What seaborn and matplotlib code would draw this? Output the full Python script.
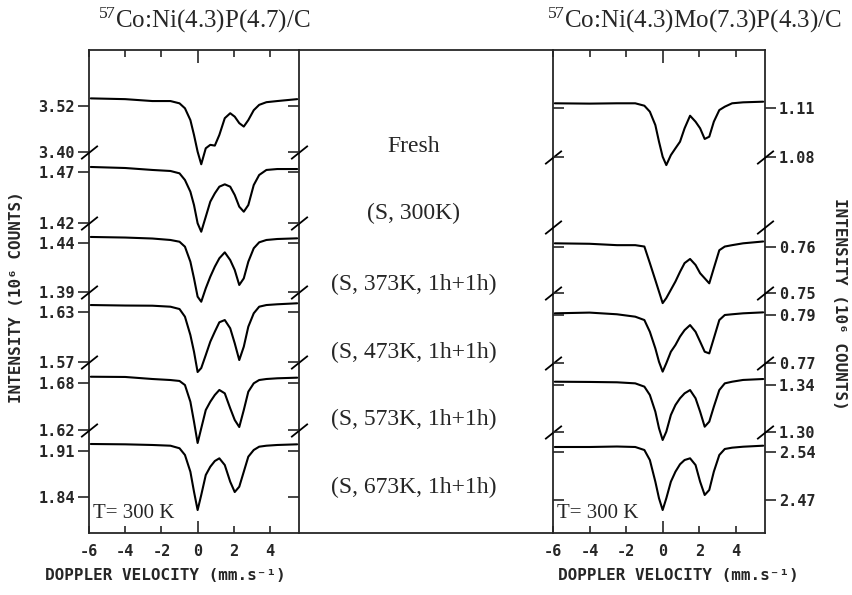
import matplotlib
matplotlib.use("Agg")
import matplotlib.pyplot as plt
import seaborn as sns

velocity = [-5.9, -4.0, -2.5, -1.5, -1.0, -0.7, -0.4, -0.2, 0.0, 0.2, 0.45, 0.7,
            0.95, 1.2, 1.5, 1.8, 2.05, 2.3, 2.55, 2.8, 3.1, 3.4, 3.8, 4.4, 5.5]

conditions = ["Fresh", "(S, 300K)", "(S, 373K, 1h+1h)", "(S, 473K, 1h+1h)",
              "(S, 573K, 1h+1h)", "(S, 673K, 1h+1h)"]

# 57Co:Ni(4.3)P(4.7)/C  -- intensity in 10^6 counts
ni_fresh = [3.540, 3.538, 3.533, 3.533, 3.527, 3.514, 3.483, 3.444, 3.400, 3.367, 3.409, 3.418,
            3.416, 3.444, 3.488, 3.501, 3.492, 3.475, 3.466, 3.483, 3.509, 3.523, 3.530, 3.533, 3.538]
ni_s300 = [1.4746, 1.4736, 1.4717, 1.4707, 1.4684, 1.4619, 1.4505, 1.4375, 1.4197, 1.4115, 1.4261, 1.4408,
           1.4489, 1.4554, 1.4577, 1.4554, 1.4473, 1.4359, 1.4310, 1.4375, 1.4570, 1.4668, 1.4717, 1.4726, 1.4726]
ni_s373 = [1.4462, 1.4456, 1.4446, 1.4431, 1.4413, 1.4362, 1.4208, 1.4037, 1.3849, 1.3797, 1.3935, 1.4054,
           1.4157, 1.4243, 1.4304, 1.4225, 1.4123, 1.3969, 1.4037, 1.4208, 1.4346, 1.4407, 1.4431, 1.4441, 1.4448]
ni_s473 = [1.6380, 1.6374, 1.6372, 1.6360, 1.6332, 1.6240, 1.6020, 1.5820, 1.5576, 1.5624, 1.5780, 1.5940,
           1.6060, 1.6173, 1.6200, 1.6101, 1.5921, 1.5720, 1.5880, 1.6120, 1.6281, 1.6360, 1.6380, 1.6389, 1.6401]
ni_s573 = [1.6880, 1.6877, 1.6851, 1.6838, 1.6826, 1.6774, 1.6561, 1.6306, 1.6034, 1.6222, 1.6455, 1.6561,
           1.6647, 1.6711, 1.6668, 1.6477, 1.6328, 1.6238, 1.6455, 1.6689, 1.6796, 1.6838, 1.6851, 1.6860, 1.6868]
ni_s673 = [1.9202, 1.9197, 1.9187, 1.9176, 1.9137, 1.9035, 1.8780, 1.8476, 1.8197, 1.8426, 1.8730, 1.8856,
           1.8943, 1.8984, 1.8882, 1.8628, 1.8471, 1.8552, 1.8780, 1.9009, 1.9111, 1.9161, 1.9176, 1.9187, 1.9197]

# 57Co:Ni(4.3)Mo(7.3)P(4.3)/C  (no spectrum for S, 300K)
nimo_fresh = [1.1131, 1.1129, 1.1131, 1.1131, 1.1116, 1.1079, 1.0996, 1.0893, 1.0800, 1.0748, 1.0810, 1.0852,
              1.0893, 1.0976, 1.1054, 1.1017, 1.0976, 1.0910, 1.0924, 1.1017, 1.1089, 1.1110, 1.1131, 1.1137, 1.1141]
nimo_s373 = [0.7608, 0.7607, 0.7604, 0.7604, 0.7601, 0.7565, 0.7528, 0.7503, 0.7478, 0.7489, 0.7507, 0.7525,
             0.7546, 0.7565, 0.7574, 0.7561, 0.7543, 0.7532, 0.7521, 0.7554, 0.7593, 0.7601, 0.7604, 0.7608, 0.7612]
nimo_s473 = [0.7907, 0.7910, 0.7903, 0.7893, 0.7879, 0.7830, 0.7761, 0.7705, 0.7664, 0.7699, 0.7747, 0.7775,
             0.7810, 0.7837, 0.7858, 0.7830, 0.7789, 0.7747, 0.7740, 0.7803, 0.7879, 0.7900, 0.7903, 0.7907, 0.7911]
nimo_s573 = [1.3428, 1.3426, 1.3423, 1.3414, 1.3386, 1.3315, 1.3173, 1.3032, 1.2932, 1.3003, 1.3145, 1.3230,
             1.3287, 1.3329, 1.3357, 1.3287, 1.3173, 1.3045, 1.3088, 1.3215, 1.3357, 1.3414, 1.3428, 1.3443, 1.3451]
nimo_s673 = [2.5473, 2.5473, 2.5480, 2.5473, 2.5429, 2.5283, 2.4967, 2.4725, 2.4554, 2.4725, 2.4967, 2.5113,
             2.5221, 2.5283, 2.5308, 2.5210, 2.4967, 2.4773, 2.4846, 2.5113, 2.5356, 2.5444, 2.5463, 2.5477, 2.5492]

# labelled y ticks of each stacked spectrum (upper, lower)
ni_ticks = [(3.52, 3.40), (1.47, 1.42), (1.44, 1.39), (1.63, 1.57), (1.68, 1.62), (1.91, 1.84)]
nimo_ticks = [(1.11, 1.08), None, (0.76, 0.75), (0.79, 0.77), (1.34, 1.30), (2.54, 2.47)]

ni_series = [ni_fresh, ni_s300, ni_s373, ni_s473, ni_s573, ni_s673]
nimo_series = [nimo_fresh, None, nimo_s373, nimo_s473, nimo_s573, nimo_s673]

# ---- layout (pixels) ----
W, H = 853, 595
TOP, BOT = 50, 533
L0, L1 = 89, 299
R0, R1 = 553, 765
XLIM = (-6, 5.6)
ni_px = [(106, 151.7), (171.7, 223), (243, 291.7), (311.7, 361.7), (383, 430), (450.7, 496.7)]
nimo_px = [(108.3, 156.7), (180, 227), (247, 293), (315, 363), (385, 432), (452, 500)]
label_y = [147, 213, 284, 352, 419, 487]

sns.set_style("ticks")
plt.rcParams["mathtext.fontset"] = "custom"
plt.rcParams["mathtext.rm"] = "Liberation Serif"
plt.rcParams["mathtext.it"] = "Liberation Serif"
plt.rcParams["mathtext.default"] = "regular"

mono = dict(family="DejaVu Sans Mono", weight="bold", size=11)
serif = dict(family="Liberation Serif")
LW = 1.3

fig = plt.figure(figsize=(W / 100, H / 100), dpi=100)


def rect(x0, x1, y0, y1):
    return [x0 / W, 1 - y1 / H, (x1 - x0) / W, (y1 - y0) / H]


def frame(x0, x1):
    ax = fig.add_axes(rect(x0, x1, TOP, BOT), facecolor="none")
    ax.set_xlim(XLIM)
    ax.set_ylim(0, 1)
    ax.set_yticks([])
    ax.set_xticks([-6, -4, -2, 0, 2, 4])
    ax.set_xticklabels(["-6", "-4", "-2", "0", "2", "4"], fontdict=mono)
    ax.tick_params(axis="x", direction="in", top=True, bottom=True, length=5, width=1.2, pad=8)
    zero = ax.xaxis.get_major_ticks()[3]
    zero.tick1line.set_markersize(9)
    zero.tick2line.set_markersize(9)
    for sp in ax.spines.values():
        sp.set_linewidth(LW)
    return ax


def break_mark(ax, y, transform):
    ax.plot([0, 1], [y, y], transform=transform, marker=[(-1, -0.8), (1, 0.8)],
            ms=12, mew=1.3, ls="none", color="k", clip_on=False, zorder=5)


def spectrum(x0, x1, values, ticks, px, side, last):
    t_hi, t_lo = ticks
    p_hi, p_lo = px
    s = (t_hi - t_lo) / (p_lo - p_hi)
    ax = fig.add_axes(rect(x0, x1, TOP, BOT), facecolor="none")
    ax.set_xlim(XLIM)
    ax.set_ylim(t_hi - (BOT - p_hi) * s, t_hi + (p_hi - TOP) * s)
    sns.lineplot(x=velocity, y=values, ax=ax, color="k", linewidth=1.5,
                 estimator=None, sort=False)
    ax.set_xticks([])
    ax.set_xlabel("")
    ax.set_ylabel("")
    for sp in ax.spines.values():
        sp.set_visible(False)
    ax.set_yticks([t_hi, t_lo])
    ax.set_yticklabels([f"{t_hi:.2f}", f"{t_lo:.2f}"], fontdict=mono)
    inner = ax.twinx()
    inner.set_ylim(ax.get_ylim())
    inner.set_yticks([t_hi, t_lo])
    inner.set_yticklabels([])
    for sp in inner.spines.values():
        sp.set_visible(False)
    if side == "left":
        ax.yaxis.tick_left()
        inner.yaxis.tick_right()
    else:
        ax.yaxis.tick_right()
        inner.yaxis.tick_left()
    ax.tick_params(axis="y", direction="out", length=8, width=1.2, pad=2)
    inner.tick_params(axis="y", direction="in", length=8, width=1.2)
    if not last:
        break_mark(ax, t_lo, ax.get_yaxis_transform())
    return ax


# middle box first, so the panel frames sit on top of it
mid = fig.add_axes(rect(L1, R0, TOP, BOT))
mid.set_xticks([])
mid.set_yticks([])
mid.spines["left"].set_visible(False)
mid.spines["right"].set_visible(False)
for k in ("top", "bottom"):
    mid.spines[k].set_linewidth(LW)

left = frame(L0, L1)
right = frame(R0, R1)

n = len(conditions)
for i in range(n):
    spectrum(L0, L1, ni_series[i], ni_ticks[i], ni_px[i], "left", i == n - 1)
    if nimo_series[i] is not None:
        spectrum(R0, R1, nimo_series[i], nimo_ticks[i], nimo_px[i], "right", i == n - 1)
    else:
        yb = (BOT - nimo_px[i][1]) / (BOT - TOP)
        break_mark(right, yb, right.transAxes)

for txt, y in zip(conditions, label_y):
    fig.text(414 / W, 1 - y / H, txt, ha="center", va="center", fontsize=17, **serif)

fig.text(204 / W, 1 - 20 / H, r"$^{57}$Co:Ni(4.3)P(4.7)/C", ha="center", va="center",
         fontsize=18, **serif)
fig.text(694 / W, 1 - 20 / H, r"$^{57}$Co:Ni(4.3)Mo(7.3)P(4.3)/C", ha="center", va="center",
         fontsize=18, **serif)
for x0 in (L0, R0):
    fig.text((x0 + 4) / W, 1 - 513 / H, "T= 300 K", ha="left", va="center", fontsize=15, **serif)

fig.text(165 / W, 1 - 576 / H, "DOPPLER VELOCITY (mm.s⁻¹)", ha="center", va="center",
         fontfamily="DejaVu Sans Mono", fontweight="bold", fontsize=11.5)
fig.text(678 / W, 1 - 576 / H, "DOPPLER VELOCITY (mm.s⁻¹)", ha="center", va="center",
         fontfamily="DejaVu Sans Mono", fontweight="bold", fontsize=11.5)
fig.text(17 / W, 1 - 297 / H, "INTENSITY (10⁶ COUNTS)", ha="center", va="center", rotation=90,
         fontfamily="DejaVu Sans Mono", fontweight="bold", fontsize=11.5)
fig.text(840 / W, 1 - 304 / H, "INTENSITY (10⁶ COUNTS)", ha="center", va="center", rotation=-90,
         fontfamily="DejaVu Sans Mono", fontweight="bold", fontsize=11.5)

fig.savefig("out.png", dpi=100, facecolor="white")
